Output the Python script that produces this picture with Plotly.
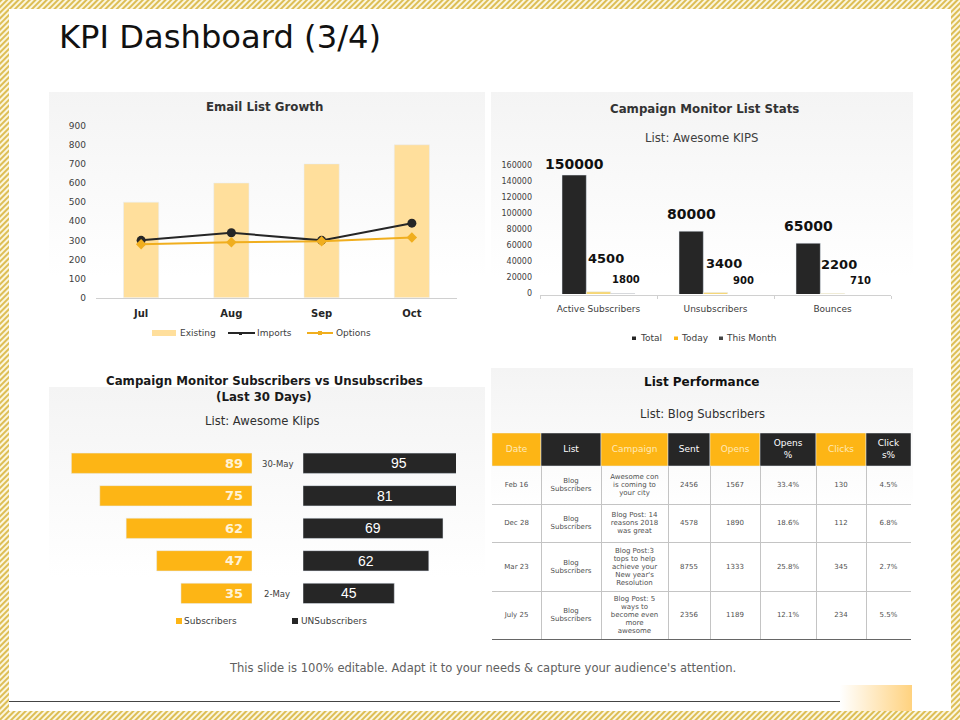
import base64

import plotly.graph_objects as go

# email list growth
months = ["Jul", "Aug", "Sep", "Oct"]
existing = [500, 600, 700, 800]
imports = [300, 340, 300, 390]
options = [280, 290, 295, 315]

# campaign monitor list stats
stat_names = ["Active Subscribers", "Unsubscribers", "Bounces"]
stat_total = [150000, 80000, 65000]
stat_today = [4500, 3400, 2200]
stat_month = [1800, 900, 710]

# subscribers vs unsubscribes
days = ["30-May", "23-May", "16-May", "9-May", "2-May"]
subscribers = [89, 75, 62, 47, 35]
unsubscribers = [95, 81, 69, 62, 45]

# list performance table
table_header = ["Date", "List", "Campaign", "Sent", "Opens", "Opens<br>%", "Clicks", "Click<br>s%"]
table_dates = ["Feb 16", "Dec 28", "Mar 23", "July 25"]
table_lists = ["Blog<br>Subscribers"] * 4
table_campaigns = [
    "Awesome con<br>is coming to<br>your city",
    "Blog Post: 14<br>reasons 2018<br>was great",
    "Blog Post:3<br>tops to help<br>achieve your<br>New year's<br>Resolution",
    "Blog Post: 5<br>ways to<br>become even<br>more<br>awesome",
]
table_sent = ["2456", "4578", "8755", "2356"]
table_opens = ["1567", "1890", "1333", "1189"]
table_opens_pct = ["33.4%", "18.6%", "25.8%", "12.1%"]
table_clicks = ["130", "112", "345", "234"]
table_clicks_pct = ["4.5%", "6.8%", "2.7%", "5.5%"]

FONT = "DejaVu Sans"
ORANGE = "#FDB515"
PALE = "#FFDF9C"
DARK = "#262626"
TEXT = "#404040"
COL_EDGES = [492, 541, 601, 668, 710, 760, 816, 866, 911]
ROW_EDGES = [433, 466, 504.3, 542.3, 591.3, 638.7]


def dom_x(left, right):
    return [left / 960, right / 960]


def dom_y(top, bottom):
    return [1 - bottom / 720, 1 - top / 720]


def label(text, x, y, size=9, color=TEXT, bold=False, family=FONT, xanchor="center"):
    # text placed in page pixels
    return dict(
        text=text, x=x / 960, y=1 - y / 720, xref="paper", yref="paper",
        showarrow=False, xanchor=xanchor, yanchor="middle",
        font=dict(family=family, size=size, color=color, weight=700 if bold else 400),
    )


def rect(x0, y0, x1, y1, color):
    return dict(
        type="rect", xref="paper", yref="paper", layer="above", line_width=0, fillcolor=color,
        x0=x0 / 960, x1=x1 / 960, y0=1 - y0 / 720, y1=1 - y1 / 720,
    )


def hline(x0, x1, y, color, width=2):
    return dict(
        type="line", xref="paper", yref="paper", layer="above", line=dict(color=color, width=width),
        x0=x0 / 960, x1=x1 / 960, y0=1 - y / 720, y1=1 - y / 720,
    )


# hatched border, panel gradients and the corner block sit in one background image
background = f"""<svg xmlns="http://www.w3.org/2000/svg" width="960" height="720" viewBox="0 0 960 720">
<defs>
<pattern id="hatch" width="4" height="4" patternUnits="userSpaceOnUse" patternTransform="rotate(45)">
<rect width="4" height="4" fill="#FBF6DF"/><rect width="2" height="4" fill="#DDBE55"/>
</pattern>
<linearGradient id="panel" x1="0" y1="0" x2="0" y2="1">
<stop offset="0" stop-color="#F4F4F4"/><stop offset="1" stop-color="#FFFFFF"/>
</linearGradient>
<linearGradient id="corner" x1="0" y1="0" x2="1" y2="0">
<stop offset="0" stop-color="#FFFFFF"/><stop offset="1" stop-color="#FFD27F"/>
</linearGradient>
</defs>
<rect width="960" height="720" fill="url(#hatch)"/>
<rect x="9" y="9" width="942" height="702" fill="#FFFFFF"/>
<rect x="49" y="92" width="436" height="185" fill="url(#panel)"/>
<rect x="491" y="92" width="422" height="185" fill="url(#panel)"/>
<rect x="49" y="387" width="436" height="190" fill="url(#panel)"/>
<rect x="491" y="368" width="422" height="140" fill="url(#panel)"/>
<rect x="840" y="685" width="72" height="26" fill="url(#corner)"/>
</svg>"""
background_uri = "data:image/svg+xml;base64," + base64.b64encode(background.encode()).decode()

fig = go.Figure()

# email list growth
fig.add_trace(go.Bar(x=months, y=existing, name="Existing", width=0.39, marker_color=PALE, xaxis="x", yaxis="y"))
fig.add_trace(go.Scatter(
    x=months, y=imports, name="Imports", mode="lines+markers", xaxis="x", yaxis="y",
    line=dict(color=DARK, width=2), marker=dict(symbol="circle", size=9, color=DARK),
))
fig.add_trace(go.Scatter(
    x=months, y=options, name="Options", mode="lines+markers", xaxis="x", yaxis="y",
    line=dict(color="#F0AE1E", width=2), marker=dict(symbol="diamond", size=8, color="#F0AE1E"),
))

# list stats
for name, values, color in [("Total", stat_total, DARK), ("Today", stat_today, "#F7D774"), ("This Month", stat_month, "#444444")]:
    fig.add_trace(go.Bar(x=stat_names, y=values, name=name, marker_color=color, xaxis="x2", yaxis="y2"))

# subscribers vs unsubscribes, the right axis stops short so 95 and 81 are cut off as in the original
fig.add_trace(go.Bar(y=days, x=subscribers, name="Subscribers", orientation="h", marker_color=ORANGE, xaxis="x3", yaxis="y3"))
fig.add_trace(go.Bar(y=days, x=unsubscribers, name="UNSubscribers", orientation="h", marker_color=DARK, xaxis="x4", yaxis="y4"))

# table, its axes run in page pixels so the gridlines are the cell borders
col_centers = [(a + b) / 2 for a, b in zip(COL_EDGES, COL_EDGES[1:])]
col_widths = [b - a for a, b in zip(COL_EDGES, COL_EDGES[1:])]
row_centers = [(a + b) / 2 for a, b in zip(ROW_EDGES, ROW_EDGES[1:])]
header_colors = [ORANGE, DARK] * 4
fig.add_trace(go.Bar(
    x=col_centers, y=[ROW_EDGES[1] - ROW_EDGES[0]] * 8, base=ROW_EDGES[0], width=col_widths,
    marker_color=header_colors, xaxis="x5", yaxis="y5",
))


def cell_text(columns_x, row_y, cell, size, step, color):
    lines = cell.split("<br>")
    ys = [row_y + (i - (len(lines) - 1) / 2) * step for i in range(len(lines))]
    fig.add_trace(go.Scatter(
        x=[columns_x] * len(lines), y=ys, text=lines, mode="text", textposition="middle center",
        textfont=dict(family=FONT, size=size, color=color), xaxis="x5", yaxis="y5",
    ))


for col, head in enumerate(table_header):
    cell_text(col_centers[col], row_centers[0], head, 9, 12, "#FFE9B8" if col % 2 == 0 else "#FFFFFF")

table_columns = [table_dates, table_lists, table_campaigns, table_sent, table_opens,
                 table_opens_pct, table_clicks, table_clicks_pct]
for col, column in enumerate(table_columns):
    for row, cell in enumerate(column):
        cell_text(col_centers[col], row_centers[row + 1], cell, 7, 8, "#505050")

annotations = [
    label("KPI Dashboard (3/4)", 56.5, 37, size=32.2, color="#111111", xanchor="left"),
    label("Email List Growth", 264, 107, size=11.8, color="#333333", bold=True),
    label("Campaign Monitor List Stats", 704, 109, size=11.8, color="#333333", bold=True),
    label("List: Awesome KIPS", 701, 138, size=11.7, color="#404040"),
    label("Campaign Monitor Subscribers vs Unsubscribes", 264, 381, size=11.8, color="#1A1A1A", bold=True),
    label("(Last 30 Days)", 264, 397, size=11.8, color="#1A1A1A", bold=True),
    label("List: Awesome Klips", 262, 421, size=11.6, color="#303030"),
    label("List Performance", 701, 382, size=12, color="#111111", bold=True),
    label("List: Blog Subscribers", 702, 414, size=11.6, color="#303030"),
    label(days[0], 277, 464, size=8.5, color="#404040"),
    label(days[-1], 277, 594, size=8.5, color="#404040"),
    label("This slide is 100% editable. Adapt it to your needs &amp; capture your audience's attention.",
          482, 668, size=11.55, color="#606060"),
]

# list stats data labels, dragged by hand away from the bars in the original
total_pos = [(574, 164), (691, 214), (808, 226)]
today_pos = [(606, 258), (724, 263), (839, 264)]
month_pos = [(626, 280), (743, 281), (860, 281)]
for values, places, size in [(stat_total, total_pos, 14), (stat_today, today_pos, 13), (stat_month, month_pos, 10)]:
    for value, (px, py) in zip(values, places):
        annotations.append(label(str(value), px, py, size=size, color="#111111", bold=True))

# butterfly value labels
for day, value in zip(days, subscribers):
    annotations.append(dict(
        text=str(value), x=0, y=day, xref="x3", yref="y3", xanchor="right", xshift=-7, showarrow=False,
        font=dict(family=FONT, size=13, color="#FFF3D6", weight=700),
    ))
for day, value in zip(days, unsubscribers):
    annotations.append(dict(
        text=str(value), x=value / 2, y=day, xref="x4", yref="y4", showarrow=False,
        font=dict(family="Liberation Sans", size=14, color="#FFFFFF"),
    ))

# legends
annotations += [
    label("Existing", 178, 332.5, xanchor="left"),
    label("Imports", 255, 332.5, xanchor="left"),
    label("Options", 334, 332.5, xanchor="left"),
    label("Total", 638, 338, xanchor="left"),
    label("Today", 679, 338, xanchor="left"),
    label("This Month", 723.5, 338, xanchor="left"),
    label("Subscribers", 182, 621, xanchor="left"),
    label("UNSubscribers", 299, 621, xanchor="left"),
]
shapes = [
    rect(152, 330, 176, 336, PALE),
    hline(228, 255, 333, DARK),
    rect(239, 332, 242, 335, DARK),
    hline(307, 333, 333, "#F0AE1E"),
    rect(318, 331, 322, 335, "#F0AE1E"),
    rect(632, 336.5, 636, 340, DARK),
    rect(674, 336.5, 678, 340, ORANGE),
    rect(719, 336.5, 723, 340, "#444444"),
    rect(176, 618, 182, 624, ORANGE),
    rect(292, 618, 298, 624, DARK),
    hline(9, 840, 701.5, "#444444", width=1),
    # thin white gap between the list stats bars and their axis
    rect(540, 294, 891, 295, "#FFFFFF"),
]

tick_font = dict(family=FONT, size=9, color="#404040")
hidden = dict(visible=False, fixedrange=True)

fig.update_layout(
    width=960, height=720, margin=dict(l=0, r=0, t=0, b=0), showlegend=False,
    paper_bgcolor="#FFFFFF", plot_bgcolor="rgba(0,0,0,0)", barmode="group",
    images=[dict(source=background_uri, xref="paper", yref="paper", x=0, y=1, sizex=1, sizey=1,
                 sizing="stretch", xanchor="left", yanchor="top", layer="below")],
    annotations=annotations, shapes=shapes,
    bargap=0.376, bargroupgap=0,
    xaxis=dict(domain=dom_x(96, 457), type="category", showline=True, linecolor="#D0D0D0", ticks="",
               ticklabelstandoff=6, tickfont=dict(family=FONT, size=10, color="#262626", weight=700),
               showgrid=False, automargin=False),
    yaxis=dict(domain=dom_y(125.7, 297.7), range=[0, 900], dtick=100, showgrid=False, zeroline=False,
               ticklabelstandoff=9, tickfont=tick_font, anchor="x", automargin=False),
    xaxis2=dict(domain=dom_x(540, 891), type="category", anchor="y2", showline=True, linecolor="#D0D0D0",
                ticks="outside", tickson="boundaries", ticklen=3, tickcolor="#D0D0D0",
                ticklabelstandoff=5, tickfont=tick_font, showgrid=False, automargin=False),
    yaxis2=dict(domain=dom_y(167, 295.3), range=[0, 160000], dtick=20000, anchor="x2", showgrid=False,
                zeroline=False, tickformat="d", automargin=False, ticklabelstandoff=7, ticklabelshift=-2,
                tickfont=dict(family=FONT, size=8, color="#404040")),
    xaxis3=dict(domain=dom_x(60, 252), range=[94.6, 0], anchor="y3", automargin=False, **hidden),
    yaxis3=dict(domain=dom_y(447, 609.6), type="category", categoryorder="array", categoryarray=days,
                range=[4.5, -0.5], anchor="x3", automargin=False, **hidden),
    xaxis4=dict(domain=dom_x(303, 456), range=[0, 75.4], anchor="y4", automargin=False, **hidden),
    yaxis4=dict(domain=dom_y(447, 609.6), type="category", categoryorder="array", categoryarray=days,
                range=[4.5, -0.5], anchor="x4", automargin=False, **hidden),
    xaxis5=dict(domain=dom_x(COL_EDGES[0], COL_EDGES[-1]), range=[COL_EDGES[0], COL_EDGES[-1]], anchor="y5",
                tickvals=COL_EDGES[1:-1], showticklabels=False, ticks="", showgrid=True, gridcolor="#C4C4C4",
                gridwidth=1, zeroline=False, showline=True, linecolor="#666666", linewidth=1, side="bottom",
                automargin=False),
    yaxis5=dict(domain=dom_y(ROW_EDGES[0], ROW_EDGES[-1]), range=[ROW_EDGES[-1], ROW_EDGES[0]], anchor="x5",
                tickvals=ROW_EDGES[2:-1], showticklabels=False, ticks="", showgrid=True, gridcolor="#C4C4C4",
                gridwidth=1, zeroline=False, automargin=False),
)

fig.write_html("out.html", post_script="document.body.style.margin='0';", config={"displayModeBar": False})
